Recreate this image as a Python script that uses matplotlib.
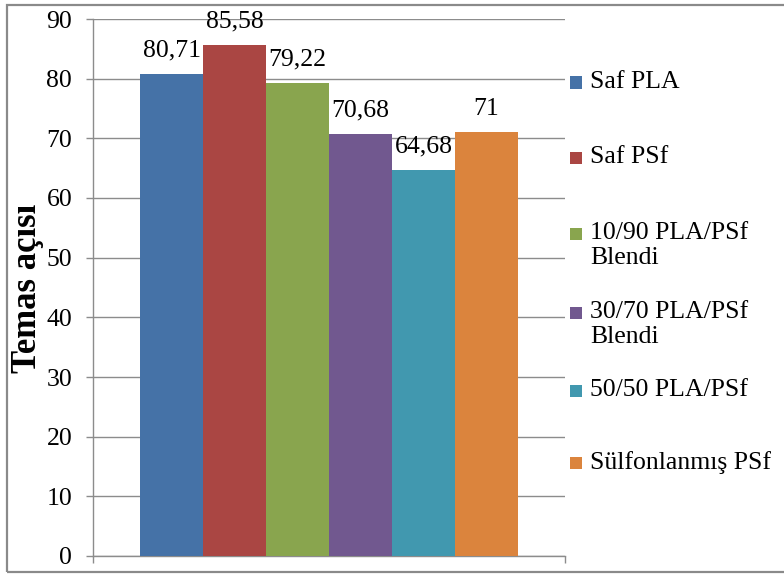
import matplotlib
matplotlib.use("Agg")
import matplotlib.pyplot as plt
from matplotlib.patches import Rectangle
import numpy as np

plt.rcParams['font.family'] = ['Liberation Serif']

series = ["Saf PLA", "Saf PSf", "10/90 PLA/PSf\nBlendi", "30/70 PLA/PSf\nBlendi",
          "50/50 PLA/PSf", "Sülfonlanmış PSf"]
values = [80.71, 85.58, 79.22, 70.68, 64.68, 71.0]
value_labels = ["80,71", "85,58", "79,22", "70,68", "64,68", "71"]
colors = ["#4572A7", "#AA4643", "#89A54E", "#71588F", "#4198AF", "#DB843D"]
y_ticks = [0, 10, 20, 30, 40, 50, 60, 70, 80, 90]
y_label = "Temas açısı"

W, H = 784, 574
fig = plt.figure(figsize=(W / 100, H / 100), dpi=100)

# frame around the chart area
fig.add_artist(Rectangle((7 / W, 1 - 572 / H), 1.0, (572 - 5) / H,
                         transform=fig.transFigure, fill=False,
                         edgecolor="#8a8a8a", linewidth=1.6))

ax = fig.add_axes([93 / W, 1 - 556 / H, (565 - 93) / W, (556 - 19) / H])

n = len(values)
pos = np.arange(n) - (n - 1) / 2
ax.bar(pos, values, width=1.0, color=colors, edgecolor="none", zorder=3)

for x, v, lab in zip(pos, values, value_labels):
    ax.annotate(lab, (x, v), xytext=(0, 9), textcoords="offset points",
                ha="center", va="bottom", fontsize=18.5, zorder=4,
                annotation_clip=False)

ax.set_xlim(-n / 2 - 0.75, n / 2 + 0.75)
ax.set_ylim(0, 90)
ax.set_yticks(y_ticks)
ax.set_yticklabels([str(t) for t in y_ticks], fontsize=18.5)
ax.yaxis.grid(True, color="#8c8c8c", linewidth=1.0, zorder=0)
ax.set_axisbelow(True)
ax.tick_params(axis="y", length=5, width=1.0, color="#8c8c8c", pad=10)
ax.set_xticks([ax.get_xlim()[0], ax.get_xlim()[1]])
ax.set_xticklabels([])
ax.tick_params(axis="x", length=5, width=1.0, color="#8c8c8c")

for s in ["top", "right"]:
    ax.spines[s].set_visible(False)
for s in ["left", "bottom"]:
    ax.spines[s].set_color("#8c8c8c")
    ax.spines[s].set_linewidth(1.0)

fig.text(28 / W, 1 - 288 / H, y_label, rotation=90, ha="center", va="center",
         fontsize=25, fontweight="bold")

# legend entries, marker aligned with first text line
legend_y = [82.5, 158, 234, 313, 391, 463]
for lab, col, yy in zip(series, colors, legend_y):
    fig.add_artist(Rectangle((570 / W, 1 - (yy + 6) / H), 12 / W, 12 / H,
                             transform=fig.transFigure, facecolor=col,
                             edgecolor="none"))
    fig.text(590 / W, 1 - (yy - 12) / H, lab, ha="left", va="top",
             fontsize=18.5, linespacing=1.15)

fig.savefig("out.png", dpi=100, facecolor="white")
